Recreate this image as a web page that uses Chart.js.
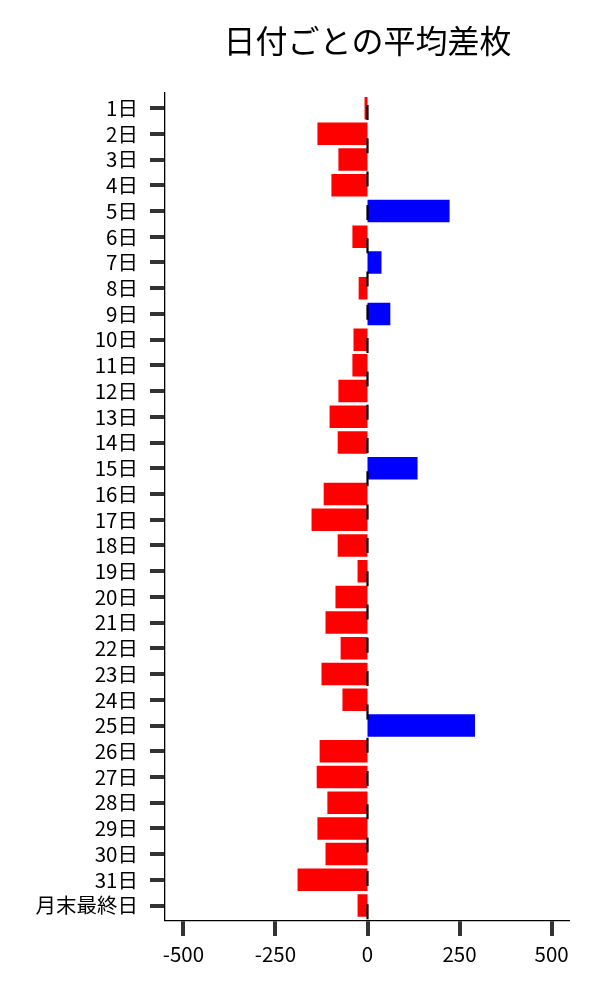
<!DOCTYPE html>
<html>
<head>
<meta charset="utf-8">
<script src="https://cdn.jsdelivr.net/npm/chart.js@4.4.0/dist/chart.umd.min.js"></script>
<style>
html,body{margin:0;padding:0;background:#fff;}
canvas{display:block;}
</style>
</head>
<body>
<canvas id="c" width="600" height="1000"></canvas>
<script>
const categories = ["1日","2日","3日","4日","5日","6日","7日","8日","9日","10日","11日","12日","13日","14日","15日","16日","17日","18日","19日","20日","21日","22日","23日","24日","25日","26日","27日","28日","29日","30日","31日","月末最終日"];
const avgDiff = [-8,-136,-79,-98,223,-41,38,-24,62,-38,-41,-79,-103,-81,136,-119,-152,-81,-27,-87,-114,-73,-125,-68,292,-130,-138,-109,-136,-114,-190,-27];
const xTickValues = [-500,-250,0,250,500];
const titleText = "日付ごとの平均差枚";

const FONT = "'Noto Sans CJK JP','Noto Sans',sans-serif";

const zeroLine = {
  id:'zeroLine',
  afterDatasetsDraw(chart){
    const {ctx, chartArea, scales} = chart;
    const x = scales.x.getPixelForValue(0);
    ctx.save();
    ctx.beginPath();
    ctx.setLineDash([15,18.3]);
    ctx.lineDashOffset = 21;
    ctx.lineWidth = 2.2;
    ctx.strokeStyle = '#000';
    ctx.moveTo(x, chartArea.top);
    ctx.lineTo(x, chartArea.bottom);
    ctx.stroke();
    ctx.restore();
  }
};

const gridOpts = {offset:false, drawOnChartArea:false, drawTicks:true, tickLength:15, tickWidth:4, lineWidth:0, color:'#333', tickColor:'#333'};

new Chart(document.getElementById('c'), {
  type:'bar',
  data:{
    datasets:[{
      data: avgDiff.map((v,i)=>({x:v, y:i})),
      backgroundColor: avgDiff.map(v => v >= 0 ? '#0000ff' : '#ff0000'),
      borderWidth:0,
      barPercentage:0.875,
      categoryPercentage:1
    }]
  },
  options:{
    indexAxis:'y',
    responsive:false,
    animation:false,
    devicePixelRatio:1,
    layout:{padding:{left:0,right:30,top:0,bottom:0}},
    plugins:{
      legend:{display:false},
      tooltip:{enabled:false},
      title:{
        display:true,
        text:titleText,
        fullSize:false,
        color:'#000',
        font:{family:FONT,size:32,weight:'normal',lineHeight:1.2},
        padding:{top:22,bottom:32.3}
      }
    },
    scales:{
      x:{
        type:'linear',
        min:-550,
        max:550,
        afterBuildTicks(scale){ scale.ticks = xTickValues.map(v=>({value:v})); },
        afterFit(scale){ scale.height = 79; },
        grid:gridOpts,
        border:{display:true, color:'#000', width:1.3},
        ticks:{color:'#000', font:{family:FONT,size:20.5}, padding:6, maxRotation:0}
      },
      y:{
        type:'linear',
        reverse:true,
        offset:false,
        min:-0.6,
        max:31.6,
        afterBuildTicks(scale){ scale.ticks = categories.map((c,i)=>({value:i})); },
        afterFit(scale){ scale.width = 165; },
        grid:gridOpts,
        border:{display:true, color:'#000', width:1.3},
        ticks:{color:'#000', font:{family:FONT,size:20.5}, padding:12, autoSkip:false,
          callback:(v)=>categories[v]}
      }
    }
  },
  plugins:[zeroLine]
});
</script>
</body>
</html>
